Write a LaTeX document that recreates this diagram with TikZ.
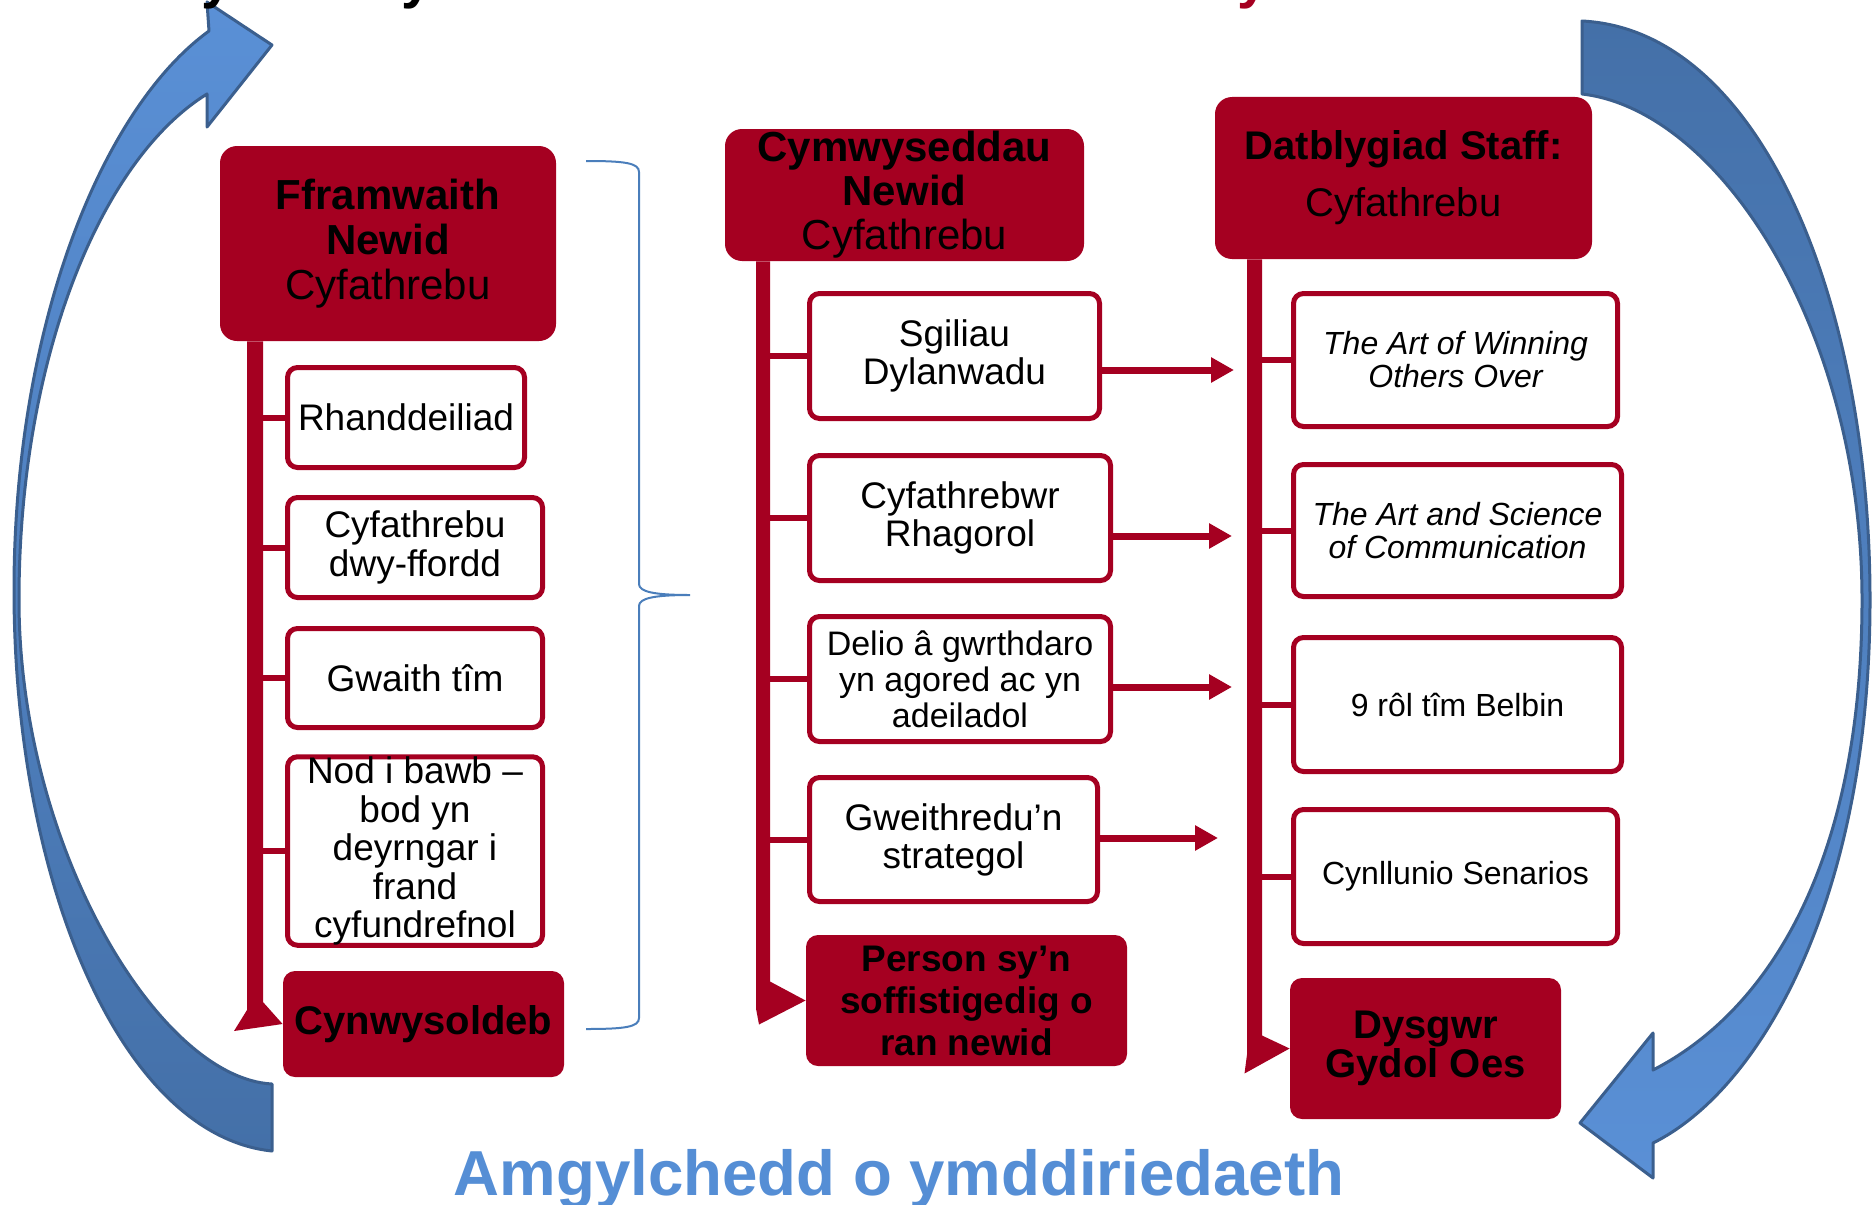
\documentclass[tikz,border=0pt]{standalone}
\usepackage{fontspec}
\setmainfont{Liberation Sans}
\usetikzlibrary{arrows.meta,calc}
\definecolor{wine}{HTML}{A50021}
\definecolor{skyA}{HTML}{5A90D6}
\definecolor{skyB}{HTML}{4470A8}
\definecolor{skyline}{HTML}{3B5F8E}
\definecolor{bracketblue}{HTML}{4A7EBB}
\definecolor{titleblue}{HTML}{558ED5}

\tikzset{
  hdr/.style={fill=wine, rounded corners=8.5pt, inner sep=0pt, align=center, text=black},
  item/.style={draw=wine, line width=2.5pt, fill=white, rounded corners=5pt, inner sep=0pt, align=center, text=black},
  goal/.style={fill=wine, rounded corners=6pt, inner sep=0pt, align=center, text=black},
  sz/.style 2 args={minimum width=#1, minimum height=#2},
  stub/.style={draw=wine, line width=3pt},
  link/.style={draw=wine, line width=3.5pt, -{Triangle[length=11.5pt,width=12pt]}},
  spine/.style={fill=wine},
  ringarrow/.style={draw=skyline, line width=1.5pt, line join=round},
}

\begin{document}
\begin{tikzpicture}[x=0.5pt, y=-0.5pt]
\useasboundingbox (0,0) rectangle (1872,1204);

% ---- circular arrows round the whole scheme ----
\path[ringarrow, top color=skyA, bottom color=skyB]
  (272,1151) .. controls (120,1135) and (14,880) .. (14,590)
  .. controls (14,330) and (100,110) .. (209,31)
  -- (207,2) -- (272,45) -- (207,127) -- (207,94)
  .. controls (100,160) and (19,360) .. (19,600)
  .. controls (19,845) and (158,1078) .. (272,1084)
  -- cycle;
\path[ringarrow, top color=skyB, bottom color=skyA]
  (1582,21) .. controls (1760,30) and (1870,300) .. (1870,600)
  .. controls (1870,900) and (1760,1090) .. (1653,1143)
  -- (1653,1178) -- (1580,1123) -- (1653,1033) -- (1653,1070)
  .. controls (1770,1010) and (1862,860) .. (1862,600)
  .. controls (1862,330) and (1720,110) .. (1582,94)
  -- cycle;

% ---- heading text running off the top edge ----
\node[anchor=base west, inner sep=0pt, font=\bfseries\fontsize{28}{30}\selectfont] (topa) at (201,-2) {y};
\node[anchor=base west, inner sep=0pt, font=\bfseries\fontsize{28}{30}\selectfont] (topb) at (401,-2) {y};
\node[anchor=base west, inner sep=0pt, font=\bfseries\fontsize{28}{30}\selectfont, text=wine] (topc) at (1237,-2) {y};

% ---- left column ----
\node[hdr, sz={168pt}{97.5pt}, font=\fontsize{21}{22.5}\selectfont] (hL) at (388,243.5)
  {\textbf{Fframwaith}\\\textbf{Newid}\\Cyfathrebu};
\node[item, sz={118.5pt}{50pt}, font=\fontsize{18.5}{19.5}\selectfont] (l1) at (406,417.5) {Rhanddeiliad};
\node[item, sz={127.5pt}{50pt}, font=\fontsize{18.5}{19.5}\selectfont] (l2) at (415,547.5) {Cyfathrebu\\dwy-ffordd};
\node[item, sz={127.5pt}{49.5pt}, font=\fontsize{18.5}{19.5}\selectfont] (l3) at (415,678) {Gwaith tîm};
\node[item, sz={127.5pt}{92.5pt}, font=\fontsize{18.5}{19.25}\selectfont] (l4) at (415,851)
  {Nod i bawb –\\bod yn\\deyrngar i\\frand\\cyfundrefnol};
\node[goal, sz={140.5pt}{53pt}, font=\bfseries\fontsize{20}{21}\selectfont] (eL) at (423.5,1024) {Cynwysoldeb};

\coordinate (bL) at (255,0);
\fill[spine] ($(bL |- hL.south)+(-8,0)$) -- ($(bL |- eL.west)+(-8,-14)$) -- ($(bL |- eL.west)+(-21,7)$)
  -- (eL.west) -- ($(bL |- eL.west)+(8,-22)$) -- ($(bL |- hL.south)+(8,0)$) -- cycle;
\foreach \b in {l1,l2,l3,l4} \draw[stub] (bL |- \b.west) -- (\b.west);

% ---- middle column ----
\node[hdr, sz={179.5pt}{66pt}, font=\fontsize{21}{22}\selectfont] (hM) at (904.5,195)
  {\textbf{Cymwyseddau}\\\textbf{Newid}\\Cyfathrebu};
\node[item, sz={145pt}{62.5pt}, font=\fontsize{18.5}{19}\selectfont] (m1) at (954.5,356) {Sgiliau\\Dylanwadu};
\node[item, sz={150.5pt}{62.5pt}, font=\fontsize{18.5}{19}\selectfont] (m2) at (960,518) {Cyfathrebwr\\Rhagorol};
\node[item, sz={150.5pt}{62.5pt}, font=\fontsize{17}{18}\selectfont] (m3) at (960,679)
  {Delio â gwrthdaro\\yn agored ac yn\\adeiladol};
\node[item, sz={144pt}{62pt}, font=\fontsize{18.5}{19}\selectfont] (m4) at (953.5,839.5) {Gweithredu’n\\strategol};
\node[goal, sz={160.5pt}{65.5pt}, font=\bfseries\fontsize{18.5}{21}\selectfont] (eM) at (966.5,1000.5)
  {Person sy’n\\soffistigedig o\\ran newid};

\coordinate (bM) at (763,0);
\fill[spine] ($(bM |- hM.south)+(-7,0)$) -- ($(bM |- eM.west)+(-7,8)$) -- ($(bM |- eM.west)+(-4,24)$)
  -- (eM.west) -- ($(bM |- eM.west)+(7,-19)$) -- ($(bM |- hM.south)+(7,0)$) -- cycle;
\foreach \b in {m1,m2,m3,m4} \draw[stub] (bM |- \b.west) -- (\b.west);

% ---- right column ----
\node[hdr, sz={188.5pt}{81pt}, font=\fontsize{20}{28.5}\selectfont] (hR) at (1403.5,178)
  {\textbf{Datblygiad Staff:}\\Cyfathrebu};
\node[item, sz={162pt}{66.5pt}, font=\itshape\fontsize{16}{16.5}\selectfont] (r1) at (1455.5,360)
  {The Art of Winning\\Others Over};
\node[item, sz={164pt}{66pt}, font=\itshape\fontsize{16}{16.5}\selectfont] (r2) at (1457.5,530.5)
  {The Art and Science\\of Communication};
\node[item, sz={164pt}{67pt}, font=\fontsize{16}{16.5}\selectfont] (r3) at (1457.5,704.5) {9 rôl tîm Belbin};
\node[item, sz={162pt}{67pt}, font=\fontsize{16}{16.5}\selectfont] (r4) at (1455.5,876.5) {Cynllunio Senarios};
\node[goal, sz={135.5pt}{70.5pt}, font=\bfseries\fontsize{20}{19.5}\selectfont] (eR) at (1425.5,1048.5)
  {Dysgwr\\Gydol Oes};

\coordinate (bR) at (1254.5,0);
\fill[spine] ($(bR |- hR.south)+(-7.5,0)$) -- ($(bR |- eR.west)+(-7.5,6)$) -- ($(bR |- eR.west)+(-10,25)$)
  -- (eR.west) -- ($(bR |- eR.west)+(7.5,-13)$) -- ($(bR |- hR.south)+(7.5,0)$) -- cycle;
\foreach \b in {r1,r2,r3,r4} \draw[stub] (bR |- \b.west) -- (\b.west);

% ---- links from the competences to staff development ----
\coordinate (t1) at (1234,370);
\coordinate (t2) at (1232,536);
\coordinate (t3) at (1232,687);
\coordinate (t4) at (1218,838);
\draw[link] (m1.east |- t1) -- (t1);
\draw[link] (m2.east |- t2) -- (t2);
\draw[link] (m3.east |- t3) -- (t3);
\draw[link] (m4.east |- t4) -- (t4);

% ---- brace gathering the first column ----
\draw[bracketblue, line width=1pt]
  (586,161) .. controls (625,161) and (639,163) .. (639,172) -- (639,584)
  .. controls (639,592) and (655,595) .. (690,595)
  .. controls (655,595) and (639,598) .. (639,606) -- (639,1018)
  .. controls (639,1027) and (625,1029) .. (586,1029);

% ---- closing line ----
\node[anchor=base, inner sep=0pt, text=titleblue, font=\bfseries\fontsize{31.8}{36}\selectfont] (foot) at (899,1195)
  {Amgylchedd o ymddiriedaeth};
\end{tikzpicture}
\end{document}
